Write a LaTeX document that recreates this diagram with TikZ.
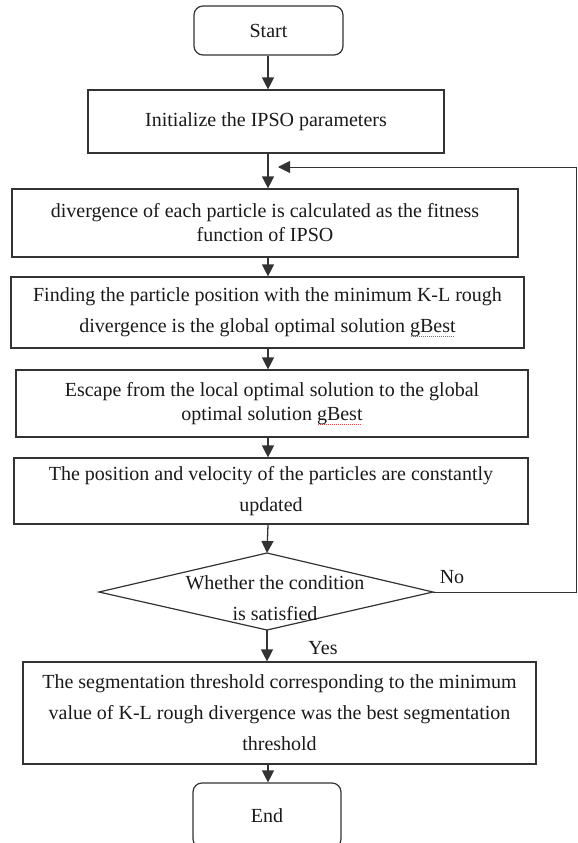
\documentclass[tikz,border=0pt]{standalone}
\usepackage{fontspec}
\setmainfont{Liberation Serif}
\usetikzlibrary{arrows.meta}
\definecolor{linec}{HTML}{333333}
\definecolor{txtc}{HTML}{1A1A1A}
\definecolor{wavered}{HTML}{D05050}
\newsavebox\gwbox
\newcommand\gwave[1]{\sbox\gwbox{#1}\leavevmode\rlap{\raisebox{-4.5pt}{\textcolor{wavered}{\hbox to \wd\gwbox{\leaders\hbox to 2pt{\hss\rule{1pt}{0.8pt}\hss}\hfill}}}}\usebox\gwbox}
\begin{document}
\begin{tikzpicture}[x=1pt,y=-1pt,
  box/.style={draw=linec, line width=1.2pt, inner sep=0pt, align=center, text=txtc, font=\fontsize{20}{24}\selectfont},
  loose/.style={font=\fontsize{20}{31}\selectfont},
  term/.style={box, rounded corners=9pt},
  arr/.style={draw=linec, line width=1.3pt, -{Triangle[width=12pt,length=12pt]}},
  lbl/.style={text=txtc, font=\fontsize{20}{24}\selectfont, inner sep=0pt}]
\fill[white] (0,0) rectangle (578,843);
\useasboundingbox (0,0) rectangle (578,843);
\coordinate (ax) at (268,0);
\node[term, minimum width=149pt, minimum height=49pt] (start) at (268.5,30.5) {Start};
\node[box, minimum width=356pt, minimum height=63pt] (b1) at (266,121.5) {Initialize the IPSO parameters};
\node[box, minimum width=506pt, minimum height=68pt] (b2) at (265,223) {divergence of each particle is calculated as the fitness\\function of IPSO};
\node[box, loose, minimum width=513pt, minimum height=71pt] (b3) at (267.5,312.5) {Finding the particle position with the minimum K-L rough\\divergence is the global optimal solution \gwave{gBest}};
\node[box, minimum width=512pt, minimum height=67pt] (b4) at (272,403.5) {Escape from the local optimal solution to the global\\optimal solution \gwave{gBest}};
\node[box, loose, minimum width=514pt, minimum height=66pt] (b5) at (271,491) {The position and velocity of the particles are constantly\\updated};
\coordinate (dT) at (267,553);
\coordinate (dR) at (433,592);
\coordinate (dB) at (267,630);
\coordinate (dL) at (99,592);
\draw[draw=linec, line width=1.2pt, fill=white] (dT) -- (dR) -- (dB) -- (dL) -- cycle;
\node[lbl, loose, align=center] (dtext) at (275,598) {Whether the condition\\is satisfied};
\node[box, loose, minimum width=513pt, minimum height=102pt] (b6) at (279.5,713) {The segmentation threshold corresponding to the minimum\\value of K-L rough divergence was the best segmentation\\threshold};
\node[term, minimum width=148pt, minimum height=65pt] (end) at (267,815.5) {End};
\node[lbl] (no) at (452,577) {No};
\node[lbl] (yes) at (323,648) {Yes};
\coordinate (fbx) at (576.5,0);
\coordinate (fbtip) at (278,167);
\draw[arr] (ax |- start.south) -- (ax |- b1.north);
\draw[arr] (ax |- b1.south) -- (ax |- b2.north);
\draw[arr] (ax |- b2.south) -- (ax |- b3.north);
\draw[arr] (ax |- b3.south) -- (ax |- b4.north);
\draw[arr] (ax |- b4.south) -- (ax |- b5.north);
\draw[arr] (ax |- b5.south) -- (dT);
\draw[arr] (dB) -- (dB |- b6.north);
\draw[arr] (ax |- b6.south) -- (ax |- end.north);
\draw[arr, line width=1pt] (dR) -- (dR -| fbx) -- (fbx |- fbtip) -- (fbtip);
\end{tikzpicture}
\end{document}
